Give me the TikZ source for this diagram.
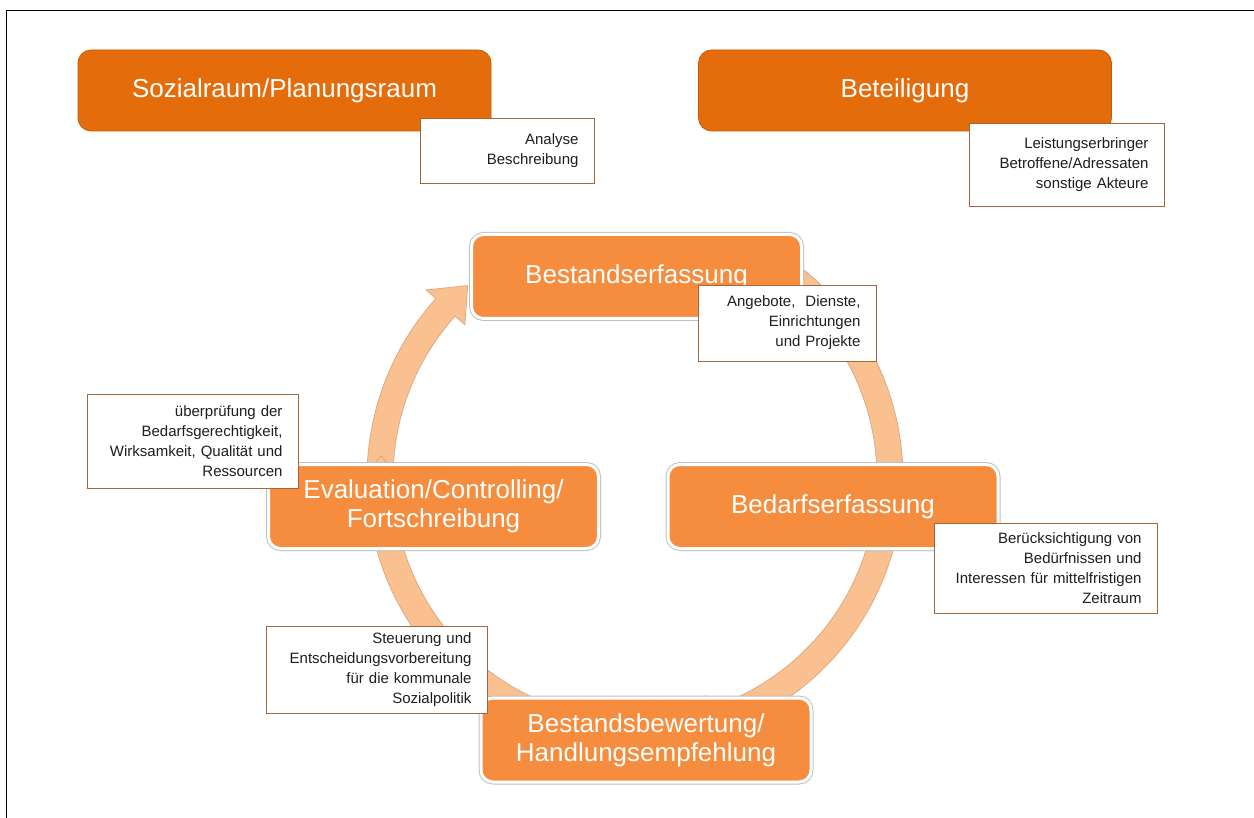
\documentclass[tikz,border=0pt]{standalone}
\usepackage{fontspec}
\setmainfont{Liberation Sans}
\definecolor{topor}{HTML}{E46C0A}
\definecolor{cycor}{HTML}{F68D3E}
\definecolor{arrfill}{HTML}{FAC08F}
\definecolor{arrline}{HTML}{D9A57E}
\definecolor{boxline}{HTML}{A5643A}
\definecolor{txt}{HTML}{1E1E1E}
\newcommand\cycarrow[3]{\path[arcband] (#1:268) arc[start angle=#1, end angle=#2, radius=268] -- (#2:281) -- (#3:255) -- (#2:229) -- (#2:242) arc[start angle=#2, end angle=#1, radius=242] -- cycle;}
\begin{document}
\begin{tikzpicture}[x=1pt,y=-1pt,
 topbox/.style={rounded corners=13pt, fill=topor, draw=topor!85!black, line width=0.8pt, minimum width=413pt, minimum height=81pt, inner sep=0pt, text=white, font=\fontsize{26}{30}\selectfont},
 cycbox/.style={rounded corners=12pt, fill=cycor, draw=white, line width=3pt, preaction={draw=black!25, line width=5pt}, minimum width=330pt, minimum height=84pt, inner sep=0pt, text=white, align=center, font=\fontsize{26}{29}\selectfont},
 note/.style={draw=boxline, fill=white, line width=0.9pt, align=right, inner xsep=15.5pt, inner ysep=0pt, text=txt, font=\fontsize{15}{20}\selectfont},
 arcband/.style={fill=arrfill, draw=arrline, line width=0.7pt, line join=miter}]
\useasboundingbox (0,0) rectangle (1254,818);
\fill[white] (0,0) rectangle (1254,818);
\draw[line width=1.5pt] (6.5,818) -- (6.5,10.5) -- (1254,10.5);

\node[topbox] (soz) at (284.5,90.5) {Sozialraum/Planungsraum};
\node[topbox] (bet) at (905,90.5) {Beteiligung};

\begin{scope}[shift={(635,478)}]
 \cycarrow{-180}{-138}{-131}
 \cycarrow{-65}{1}{8}
 \cycarrow{10}{72}{79}
 \cycarrow{108}{178}{185}
\end{scope}

\node[cycbox] (be) at (636.5,276.5) {Bestandserfassung};
\node[cycbox] (bd) at (833,506.5) {Bedarfserfassung};
\node[cycbox] (bw) at (646,740) {Bestandsbewertung/\\Handlungsempfehlung};
\node[cycbox] (ev) at (433.5,506.5) {Evaluation/Controlling/\\Fortschreibung};

\node[note, text width=143pt, minimum height=65pt] (n1) at (507,150.5) {Analyse\\Beschreibung};
\node[note, text width=164pt, minimum height=83pt] (n2) at (1066.5,164.5) {Leistungserbringer\\Betroffene/Adressaten\\sonstige Akteure};
\node[note, text width=147pt, minimum height=76pt] (n3) at (787,323) {Angebote,~~Dienste,\\Einrichtungen\\und Projekte};
\node[note, text width=180pt, minimum height=94pt] (n4) at (192.5,441) {überprüfung der\\Bedarfsgerechtigkeit,\\Wirksamkeit, Qualität und\\Ressourcen};
\node[note, text width=192pt, minimum height=90pt] (n5) at (1045.5,568) {Berücksichtigung von\\Bedürfnissen und\\Interessen für mittelfristigen\\Zeitraum};
\node[note, text width=190pt, minimum height=87pt] (n6) at (376.5,669.5) {Steuerung und\\Entscheidungsvorbereitung\\für die kommunale\\Sozialpolitik};
\end{tikzpicture}
\end{document}
